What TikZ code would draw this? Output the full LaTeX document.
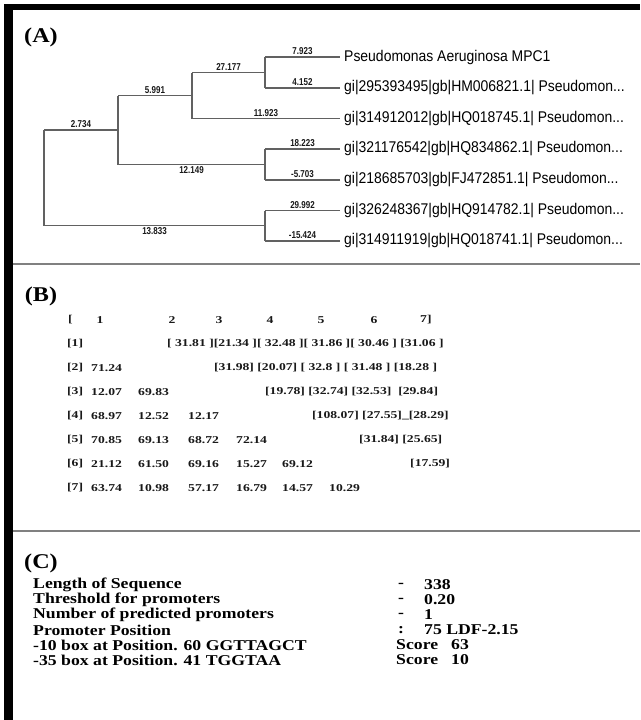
\documentclass[tikz,border=0pt]{standalone}
\usepackage{fontspec}
\setmainfont{Liberation Serif}
\newfontfamily\treefont[FakeStretch=0.9]{Liberation Sans}
\newfontfamily\lenfont[FakeStretch=0.8]{Liberation Sans}
\newfontfamily\serifwide[FakeStretch=1.18]{Liberation Serif}
\newfontfamily\matfont[FakeStretch=1.3]{Liberation Serif}
\newfontfamily\panelfont[FakeStretch=1.15]{Liberation Serif}
\begin{document}
\begin{tikzpicture}[x=1pt,y=-1pt,
  panel/.style={font=\panelfont\bfseries\fontsize{21}{21}\selectfont, inner sep=0pt},
  leaf/.style={font=\treefont\fontsize{15.5}{15.5}\selectfont, anchor=west, inner sep=0pt},
  blen/.style={font=\lenfont\bfseries\fontsize{10}{10}\selectfont, inner sep=1.5pt, text=black!90},
  branch/.style={draw=black!62, line width=1.2pt},
  mat/.style={font=\matfont\bfseries\fontsize{10.5}{10.5}\selectfont, anchor=west, inner sep=0pt, text=black!90},
  matc/.style={font=\matfont\bfseries\fontsize{10.5}{10.5}\selectfont, inner sep=0pt, text=black!90},
  info/.style={font=\serifwide\bfseries\fontsize{15}{15}\selectfont, anchor=west, inner sep=0pt},
  sep/.style={draw=black!50, line width=2.2pt}]
\useasboundingbox (0,0) rectangle (640,720);
\fill[white] (0,0) rectangle (640,720);
% frame
\fill[black] (4,4) rectangle (640,10);
\fill[black] (4,4) rectangle (13,720);
% separators
\coordinate (s1a) at (13,264); \coordinate (s1b) at (640,264);
\coordinate (s2a) at (13,531); \coordinate (s2b) at (640,531);
\draw[sep] (s1a) -- (s1b);
\draw[sep] (s2a) -- (s2b);
% panel labels
\node[panel] (pa) at (41,37) {(A)};
\node[panel] (pb) at (41,296) {(B)};
\node[panel] (pc) at (41,563) {(C)};
% ---------------- tree ----------------
\coordinate (l1) at (340,57);
\coordinate (l2) at (340,88);
\coordinate (l3) at (340,118.5);
\coordinate (l4) at (340,149);
\coordinate (l5) at (340,180);
\coordinate (l6) at (340,210.5);
\coordinate (l7) at (340,241);
\coordinate (nE) at (265,72.5);
\coordinate (nC) at (192,95.5);
\coordinate (nD) at (265,164.5);
\coordinate (nA) at (118,130);
\coordinate (nF) at (265,225.75);
\coordinate (nR) at (44,177.9);
% verticals
\draw[branch] (nE|-l1) -- (nE|-l2);
\draw[branch] (nC|-nE) -- (nC|-l3);
\draw[branch] (nD|-l4) -- (nD|-l5);
\draw[branch] (nA|-nC) -- (nA|-nD);
\draw[branch] (nF|-l6) -- (nF|-l7);
\draw[branch] (nR|-nA) -- (nR|-nF);
% horizontals with lengths
\draw[branch] (nE|-l1) -- node[blen,above]{7.923} (l1);
\draw[branch] (nE|-l2) -- node[blen,above]{4.152} (l2);
\draw[branch] (nC|-nE) -- node[blen,above]{27.177} (nE);
\draw[branch] (nC|-l3) -- node[blen,above]{11.923} (l3);
\draw[branch] (nA|-nC) -- node[blen,above]{5.991} (nC);
\draw[branch] (nD|-l4) -- node[blen,above]{18.223} (l4);
\draw[branch] (nD|-l5) -- node[blen,above]{-5.703} (l5);
\draw[branch] (nA|-nD) -- node[blen,below]{12.149} (nD);
\draw[branch] (nR|-nA) -- node[blen,above]{2.734} (nA);
\draw[branch] (nF|-l6) -- node[blen,above]{29.992} (l6);
\draw[branch] (nF|-l7) -- node[blen,above]{-15.424} (l7);
\draw[branch] (nR|-nF) -- node[blen,below]{13.833} (nF);
% leaf labels
\node[leaf] (t1) at ([xshift=4pt]l1) {Pseudomonas Aeruginosa MPC1};
\node[leaf] (t2) at ([xshift=4pt]l2) {gi|295393495|gb|HM006821.1| Pseudomon...};
\node[leaf] (t3) at ([xshift=4pt]l3) {gi|314912012|gb|HQ018745.1| Pseudomon...};
\node[leaf] (t4) at ([xshift=4pt]l4) {gi|321176542|gb|HQ834862.1| Pseudomon...};
\node[leaf] (t5) at ([xshift=4pt]l5) {gi|218685703|gb|FJ472851.1| Pseudomon...};
\node[leaf] (t6) at ([xshift=4pt]l6) {gi|326248367|gb|HQ914782.1| Pseudomon...};
\node[leaf] (t7) at ([xshift=4pt]l7) {gi|314911919|gb|HQ018741.1| Pseudomon...};
% ---------------- matrix (B) ----------------
\node[mat] (h0) at (68,320) {[};
\node[matc] (h1) at (100,320) {1};
\node[matc] (h2) at (172,320) {2};
\node[matc] (h3) at (219,320) {3};
\node[matc] (h4) at (270,320) {4};
\node[matc] (h5) at (321,320) {5};
\node[matc] (h6) at (374,320) {6};
\node[mat] (h7) at (420,320) {7]};
\node[mat] (r1) at (67,344) {[1]};
\node[mat] (r2) at (67,368) {[2]};
\node[mat] (r3) at (67,392) {[3]};
\node[mat] (r4) at (67,416) {[4]};
\node[mat] (r5) at (67,440) {[5]};
\node[mat] (r6) at (67,464) {[6]};
\node[mat] (r7) at (67,488) {[7]};
\node[mat] (b1) at (167,344) {[ 31.81 ][21.34 ][ 32.48 ][ 31.86 ][ 30.46 ] [31.06 ]};
\node[mat] (b2) at (214,368) {[31.98] [20.07] [ 32.8 ] [ 31.48 ] [18.28 ]};
\node[mat] (b3) at (265,392) {[19.78] [32.74] [32.53]\ \ [29.84]};
\node[mat] (b4) at (312,416) {[108.07] [27.55]\_[28.29]};
\node[mat] (b5) at (359,440) {[31.84] [25.65]};
\node[mat] (b6) at (410,464) {[17.59]};
\node[mat] (v21) at (91,368) {71.24};
\node[mat] (v31) at (91,392) {12.07};
\node[mat] (v32) at (138,392) {69.83};
\node[mat] (v41) at (91,416) {68.97};
\node[mat] (v42) at (138,416) {12.52};
\node[mat] (v43) at (188,416) {12.17};
\node[mat] (v51) at (91,440) {70.85};
\node[mat] (v52) at (138,440) {69.13};
\node[mat] (v53) at (188,440) {68.72};
\node[mat] (v54) at (236,440) {72.14};
\node[mat] (v61) at (91,464) {21.12};
\node[mat] (v62) at (138,464) {61.50};
\node[mat] (v63) at (188,464) {69.16};
\node[mat] (v64) at (236,464) {15.27};
\node[mat] (v65) at (282,464) {69.12};
\node[mat] (v71) at (91,488) {63.74};
\node[mat] (v72) at (138,488) {10.98};
\node[mat] (v73) at (188,488) {57.17};
\node[mat] (v74) at (236,488) {16.79};
\node[mat] (v75) at (282,488) {14.57};
\node[mat] (v76) at (329,488) {10.29};
% ---------------- info (C) ----------------
\node[info] (c1) at (33,585) {Length of Sequence};
\node[info] (c2) at (33,600) {Threshold for promoters};
\node[info] (c3) at (33,615) {Number of predicted promoters};
\node[info] (c4) at (33,630) {Promoter Position};
\node[info] (c5) at (33,645) {-10 box at Position. 60 GGTTAGCT};
\node[info] (c6) at (33,660) {-35 box at Position. 41 TGGTAA};
\node[info] (d1) at (398,585) {-};
\node[info] (d2) at (398,600) {-};
\node[info] (d3) at (398,615) {-};
\node[info] (d4) at (398,630) {:};
\node[info] (d5) at (396,645) {Score};
\node[info] (d6) at (396,660) {Score};
\node[info] (e1) at (424,585) {338};
\node[info] (e2) at (424,600) {0.20};
\node[info] (e3) at (424,615) {1};
\node[info] (e4) at (424,630) {75 LDF-2.15};
\node[info] (e5) at (451,645) {63};
\node[info] (e6) at (451,660) {10};
\end{tikzpicture}
\end{document}
